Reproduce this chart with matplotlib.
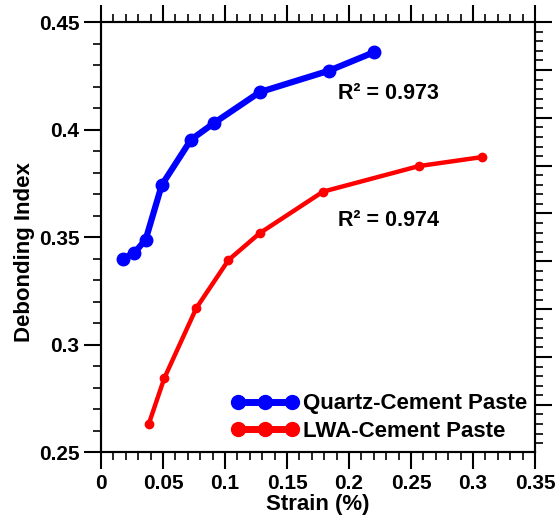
import matplotlib
matplotlib.use("Agg")
import matplotlib.pyplot as plt
from matplotlib.ticker import MultipleLocator

# Quartz-cement paste
quartz_strain = [0.018, 0.027, 0.036, 0.049, 0.0726, 0.0913, 0.128, 0.184, 0.2203]
quartz_index = [0.340, 0.3427, 0.3488, 0.3742, 0.3953, 0.4031, 0.4174, 0.4274, 0.436]

# LWA-cement paste
lwa_strain = [0.0386, 0.051, 0.0769, 0.1028, 0.128, 0.179, 0.2563, 0.3073]
lwa_index = [0.2632, 0.2843, 0.317, 0.3393, 0.3518, 0.3711, 0.383, 0.3872]

r2_labels = ["R\u00b2 = 0.973", "R\u00b2 = 0.974"]
r2_pos = [(0.191, 0.4168), (0.191, 0.3578)]

plt.rcParams["font.family"] = ["Liberation Sans", "DejaVu Sans"]
plt.rcParams["font.weight"] = "bold"

fig = plt.figure(figsize=(5.55, 5.25), dpi=100)
ax = fig.add_axes([0.182, 0.139, 0.782, 0.819])

ax.plot(quartz_strain, quartz_index, color="#0000ff", lw=4.5, marker="o", ms=9,
        label="Quartz-Cement Paste", zorder=3)
ax.plot(lwa_strain, lwa_index, color="#ff0000", lw=3.2, marker="o", ms=6,
        label="LWA-Cement Paste", zorder=3)

for txt, (x, y) in zip(r2_labels, r2_pos):
    ax.text(x, y, txt, fontsize=15.5, fontweight="bold", va="center", ha="left")

ax.set_xlim(0, 0.35)
ax.set_ylim(0.25, 0.45)
ax.xaxis.set_major_locator(MultipleLocator(0.05))
ax.xaxis.set_minor_locator(MultipleLocator(0.01))
ax.yaxis.set_major_locator(MultipleLocator(0.05))
ax.yaxis.set_minor_locator(MultipleLocator(0.01))
ax.set_xticklabels([f"{v:g}" for v in ax.get_xticks()])
ax.set_yticklabels([f"{v:g}" for v in ax.get_yticks()])

ax.tick_params(which="major", direction="out", length=12, width=1.5,
               labelsize=15, top=True, right=False)
ax.tick_params(which="minor", direction="out", length=6, width=1.2,
               top=True, right=False)
for lab in ax.get_xticklabels() + ax.get_yticklabels():
    lab.set_fontweight("bold")
for s in ax.spines.values():
    s.set_linewidth(1.5)

ax.set_xlabel("Strain (%)", fontsize=16, fontweight="bold", labelpad=1)
ax.set_ylabel("Debonding Index", fontsize=16, fontweight="bold")
ax.yaxis.set_label_coords(-0.153, 0.465)

# right axis carries its own unlabeled tick scale
ax2 = ax.twinx()
ax2.set_ylim(0.25, 0.45)
ax2.yaxis.set_major_locator(MultipleLocator(0.02225, offset=0.005))
ax2.yaxis.set_minor_locator(MultipleLocator(0.00445, offset=0.0005))
ax2.tick_params(which="major", direction="out", length=12, width=1.5, labelright=False)
ax2.tick_params(which="minor", direction="out", length=6, width=1.2)
for s in ax2.spines.values():
    s.set_linewidth(1.5)

leg = ax.legend(loc="lower right", bbox_to_anchor=(1.012, -0.008), frameon=False,
                fontsize=16, numpoints=3, handlelength=3.0, handletextpad=0.2,
                borderaxespad=0.2, labelspacing=0.3)
for h in leg.legend_handles:
    h.set_markersize(10)
    h.set_linewidth(5)
for t in leg.get_texts():
    t.set_fontweight("bold")

fig.savefig("out.png", dpi=100)
